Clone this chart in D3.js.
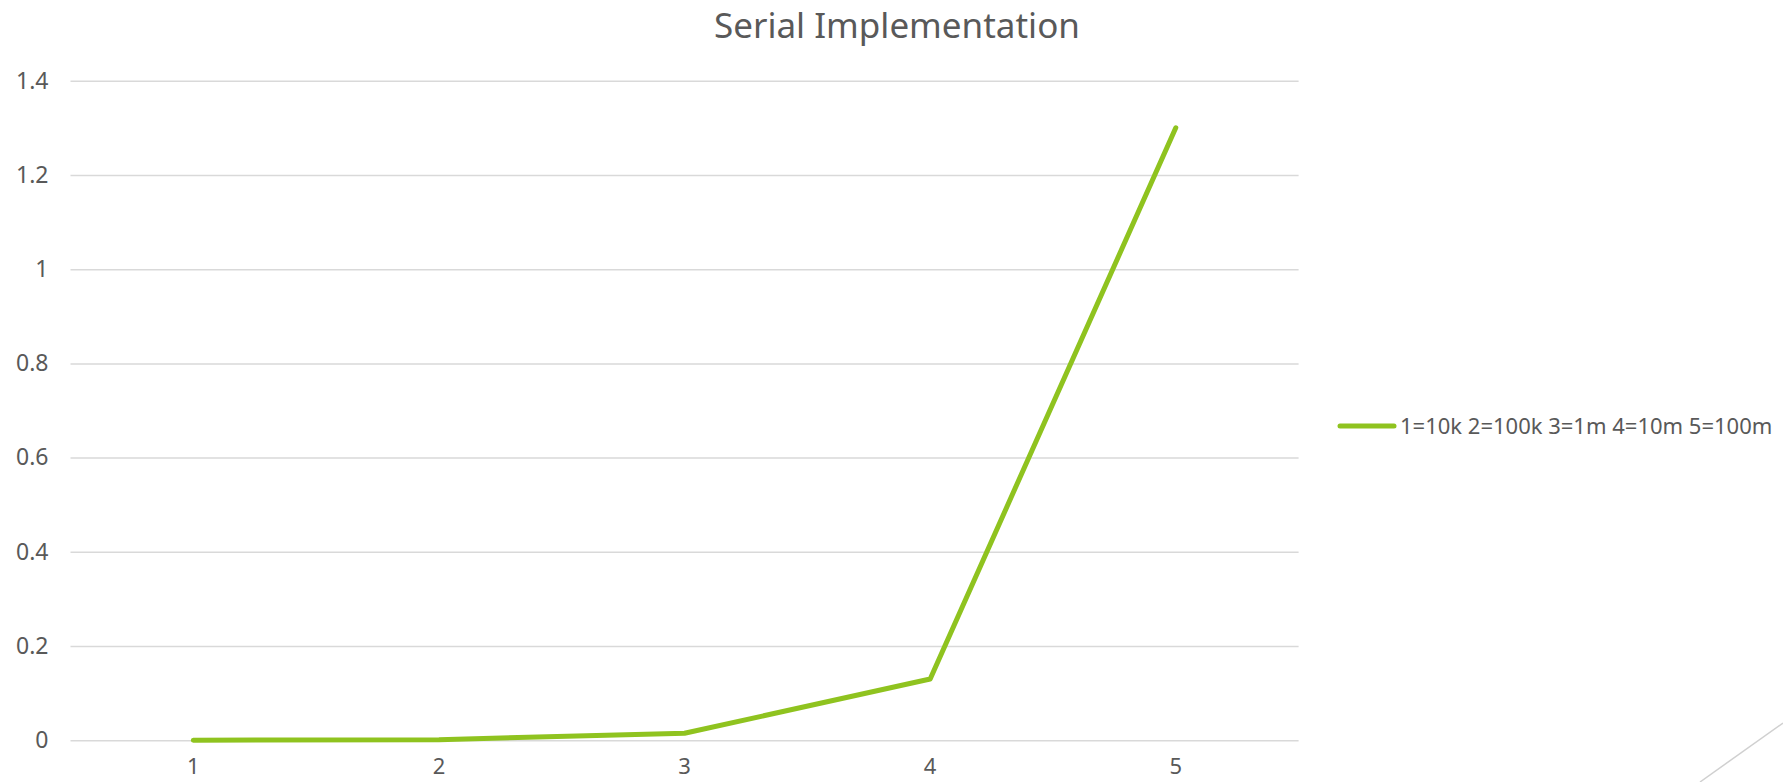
<!DOCTYPE html>
<html>
<head>
<meta charset="utf-8">
<script src="https://cdn.jsdelivr.net/npm/d3@7"></script>
<style>
  html, body { margin: 0; padding: 0; background: #fff; }
  svg { display: block; }
  text { font-family: "Noto Sans", "Open Sans", sans-serif; fill: #595959; }
</style>
</head>
<body>
<svg id="chart" width="1783" height="782"></svg>
<script>
// Run time (seconds) of the serial implementation per input size
const categories = ["1", "2", "3", "4", "5"];
const times = [0.00013, 0.0013, 0.015, 0.13, 1.3];
const yTicks = [0, 0.2, 0.4, 0.6, 0.8, 1, 1.2, 1.4];
const seriesName = "1=10k 2=100k 3=1m 4=10m 5=100m";
const chartTitle = "Serial Implementation";

const W = 1783, H = 782;
const margin = { left: 70.5, right: W - 1298.6, top: 80.7, bottom: H - 740.3 };
const svg = d3.select("#chart");
const font = "Noto Sans, Open Sans, sans-serif";

const x = d3.scaleBand().domain(categories).range([margin.left, W - margin.right]);
const y = d3.scaleLinear().domain([0, 1.4]).range([H - margin.bottom, margin.top]);

// Horizontal gridlines
svg.append("g")
  .attr("transform", `translate(${margin.left},0)`)
  .call(d3.axisLeft(y).tickValues(yTicks).tickSize(-(W - margin.left - margin.right)).tickFormat(""))
  .call(g => g.select(".domain").remove())
  .call(g => g.selectAll("line").attr("stroke", "#d9d9d9").attr("stroke-width", 1.5));

// Y tick labels
svg.append("g")
  .attr("transform", `translate(${margin.left - 22},0)`)
  .call(d3.axisLeft(y).tickValues(yTicks).tickSize(0).tickPadding(0).tickFormat(d3.format("~g")))
  .call(g => g.select(".domain").remove())
  .call(g => g.selectAll("text").attr("font-size", 23).attr("fill", "#595959").attr("font-family", font));

// X tick labels (baseline placed explicitly so the glyphs sit inside the frame)
svg.append("g")
  .attr("transform", `translate(0,${H - margin.bottom})`)
  .call(d3.axisBottom(x).tickSize(0).tickPadding(0))
  .call(g => g.select(".domain").remove())
  .call(g => g.selectAll("text")
    .attr("y", 34).attr("dy", null)
    .attr("font-size", 22).attr("fill", "#595959").attr("font-family", font));

// Series line
const line = d3.line()
  .x((d, i) => x(categories[i]) + x.bandwidth() / 2)
  .y(d => y(d));

svg.append("path")
  .datum(times)
  .attr("d", line)
  .attr("fill", "none")
  .attr("stroke", "#8fc31f")
  .attr("stroke-width", 5)
  .attr("stroke-linecap", "round")
  .attr("stroke-linejoin", "round");

// Title
svg.append("text")
  .attr("x", 897)
  .attr("y", 38)
  .attr("text-anchor", "middle")
  .attr("font-size", 35)
  .text(chartTitle);

// Legend
const lg = svg.append("g").attr("transform", "translate(1340,426)");
lg.append("line")
  .attr("x1", 0).attr("x2", 54).attr("y1", 0).attr("y2", 0)
  .attr("stroke", "#8fc31f").attr("stroke-width", 5).attr("stroke-linecap", "round");
lg.append("text")
  .attr("x", 60).attr("y", 0).attr("dy", "0.35em")
  .attr("font-size", 22)
  .text(seriesName);

// Decorative corner stroke
svg.append("line")
  .attr("x1", 1700).attr("y1", 782).attr("x2", 1783).attr("y2", 723)
  .attr("stroke", "#d0d0d0").attr("stroke-width", 1.5);
</script>
</body>
</html>
